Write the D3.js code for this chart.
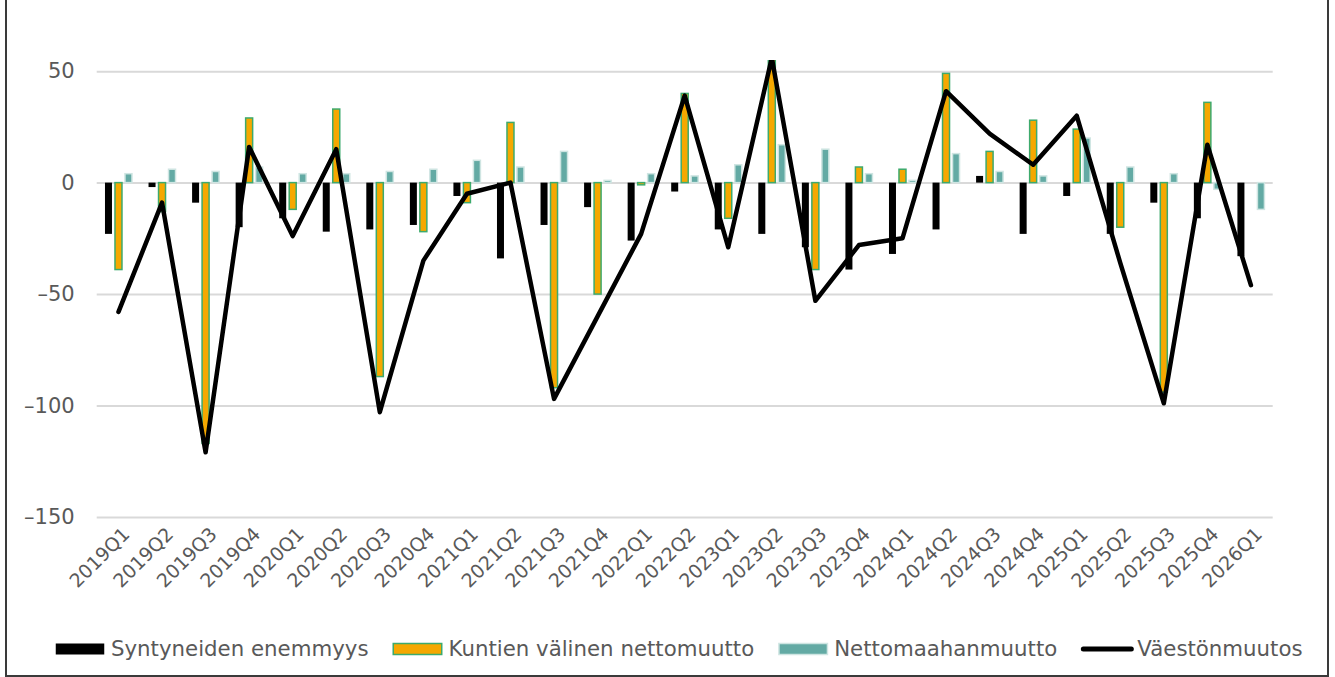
<!DOCTYPE html>
<html>
<head>
<meta charset="utf-8">
<script src="https://cdn.jsdelivr.net/npm/d3@7"></script>
<style>
  body { margin: 0; background: #fff; }
  svg text { font-family: "DejaVu Sans", sans-serif; fill: #595959; }
</style>
</head>
<body>
<section></section>
<script>
//Quarters on the x axis
const quarters = ["2019Q1", "2019Q2", "2019Q3", "2019Q4",
    "2020Q1", "2020Q2", "2020Q3", "2020Q4",
    "2021Q1", "2021Q2", "2021Q3", "2021Q4",
    "2022Q1", "2022Q2",
    "2023Q1", "2023Q2", "2023Q3", "2023Q4",
    "2024Q1", "2024Q2", "2024Q3", "2024Q4",
    "2025Q1", "2025Q2", "2025Q3", "2025Q4",
    "2026Q1"];

//Series values
const syntyneet = [-23, -2, -9, -20, -16, -22, -21, -19, -6, -34, -19, -11, -26, -4,
    -21, -23, -29, -39, -32, -21, 3, -23, -6, -23, -9, -16, -33];
const kuntienValinen = [-39, -13, -117, 29, -12, 33, -87, -22, -9, 27, -92, -50, -1, 40,
    -16, 62, -39, 7, 6, 49, 14, 28, 24, -20, -94, 36, 0];
const maahanmuutto = [4, 6, 5, 7, 4, 4, 5, 6, 10, 7, 14, 1, 4, 3,
    8, 17, 15, 4, 1, 13, 5, 3, 20, 7, 4, -3, -12];
const vaestonmuutos = [-58, -9, -121, 16, -24, 15, -103, -35, -5, 0, -97, -60, -23, 39,
    -29, 56, -53, -28, -25, 41, 22, 8, 30, -36, -99, 17, -46];

const yTicks = [50, 0, -50, -100, -150];
const seriesNames = ["Syntyneiden enemmyys", "Kuntien välinen nettomuutto", "Nettomaahanmuutto", "Väestönmuutos"];

let width = 1335;
let height = 677;
const plot = { left: 96.7, right: 1272.7, top: 60, bottom: 517 };

let svg = d3.select("section")
    .append("svg")
    .attr("width", width)
    .attr("height", height);

//Outer frame
svg.append("rect")
    .attr("x", 6)
    .attr("y", -4)
    .attr("width", 1322)
    .attr("height", 680)
    .attr("fill", "none")
    .attr("stroke", "#3a3a3a")
    .attr("stroke-width", 2);

//Scales
const x = d3.scaleBand()
    .domain(quarters)
    .range([plot.left, plot.right]);

const y = d3.scaleLinear()
    .domain([-150, 55])
    .range([plot.bottom, plot.top]);

//Gridlines and y labels
const yAxis = svg.append("g")
    .attr("transform", `translate(${plot.left},0)`)
    .call(d3.axisLeft(y).tickValues(yTicks).tickSize(-(plot.right - plot.left)).tickPadding(22)
        .tickFormat(d => d < 0 ? "\u2013" + Math.abs(d) : d));
yAxis.select(".domain").remove();
yAxis.selectAll(".tick line").attr("stroke", "#d9d9d9").attr("stroke-width", 2);
yAxis.selectAll(".tick text")
    .style("font-size", "21px")
    .style("fill", "#595959");

//x labels, rotated
const xAxis = svg.append("g")
    .attr("transform", `translate(0,${plot.bottom + 8})`)
    .call(d3.axisBottom(x).tickSize(0).tickPadding(0));
xAxis.select(".domain").remove();
xAxis.selectAll(".tick text")
    .style("font-size", "19px")
    .style("fill", "#595959")
    .attr("text-anchor", "end")
    .attr("dy", "0.7em")
    .attr("transform", "translate(3,1) rotate(-45)");

//Clip to plot area
svg.append("clipPath")
    .attr("id", "plotClip")
    .append("rect")
    .attr("x", plot.left)
    .attr("y", plot.top)
    .attr("width", plot.right - plot.left)
    .attr("height", plot.bottom - plot.top);

const chart = svg.append("g").attr("clip-path", "url(#plotClip)");

const barW = 8;
const series = [
    { values: syntyneet, offset: -10, fill: "#000000", stroke: "none" },
    { values: kuntienValinen, offset: 0, fill: "#f5a800", stroke: "#3daa6d" },
    { values: maahanmuutto, offset: 10, fill: "#63aaa4", stroke: "#cfe5e2" }
];

series.forEach(function (s) {
    chart.append("g")
        .selectAll("rect")
        .data(s.values)
        .enter()
        .append("rect")
        .attr("x", (d, i) => x(quarters[i]) + x.bandwidth() / 2 + s.offset - barW / 2 + 0.5)
        .attr("y", d => y(Math.max(0, d)))
        .attr("width", barW - 1)
        .attr("height", d => Math.abs(y(d) - y(0)))
        .attr("fill", s.fill)
        .attr("stroke", s.stroke)
        .attr("stroke-width", s.stroke === "none" ? 0 : 1.5);
});

//Population change line
const line = d3.line()
    .x((d, i) => x(quarters[i]) + x.bandwidth() / 2)
    .y(d => y(d));

chart.append("path")
    .datum(vaestonmuutos)
    .attr("d", line)
    .attr("fill", "none")
    .attr("stroke", "#000")
    .attr("stroke-width", 4.5)
    .attr("stroke-linejoin", "round")
    .attr("stroke-linecap", "round");

//Legend
const legend = svg.append("g").attr("transform", "translate(55,649)");
let lx = 0;
seriesNames.forEach(function (name, i) {
    const item = legend.append("g").attr("transform", `translate(${lx},0)`);
    if (i === 3) {
        item.append("line")
            .attr("x1", 2).attr("x2", 50)
            .attr("stroke", "#000")
            .attr("stroke-width", 5)
            .attr("stroke-linecap", "round");
    } else {
        const s = series[i];
        item.append("rect")
            .attr("x", 0.75).attr("y", -5.5)
            .attr("width", 48.5).attr("height", 11)
            .attr("fill", s.fill)
            .attr("stroke", s.stroke)
            .attr("stroke-width", s.stroke === "none" ? 0 : 1.5);
    }
    const label = item.append("text")
        .attr("x", 56)
        .attr("dy", "0.35em")
        .style("font-size", "21.3px")
        .text(name);
    lx += 56 + label.node().getComputedTextLength() + 24;
});
</script>
</body>
</html>
